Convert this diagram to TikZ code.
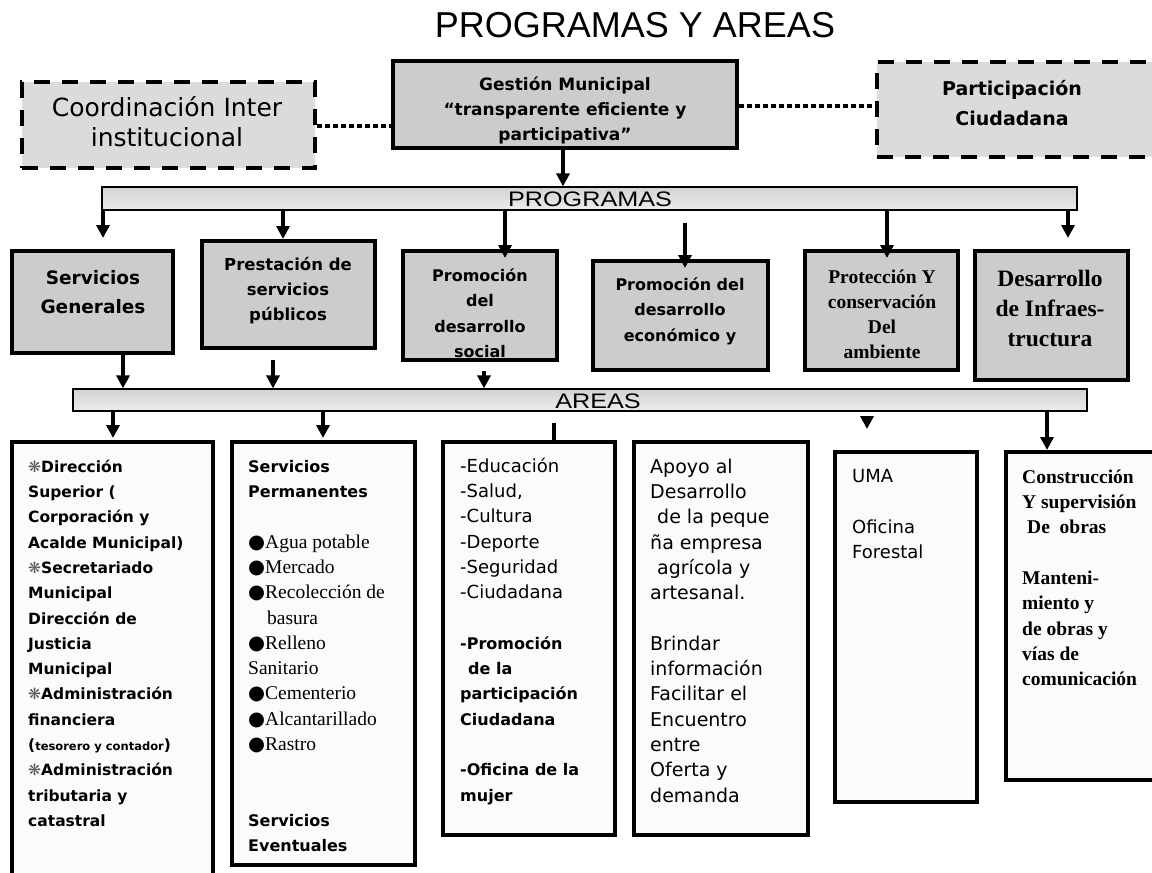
\documentclass[tikz,border=0pt]{standalone}
\usepackage{graphicx}
\usepackage{fontspec}
\setmainfont{DejaVu Sans}
\newfontfamily\dvs{DejaVu Sans}
\newfontfamily\tms{Liberation Serif}
\newfontfamily\arl{Liberation Sans}
\usetikzlibrary{arrows.meta}
\tikzstyle{prg}=[draw,line width=4pt,fill=gray!40,inner sep=0]
\tikzstyle{ext}=[draw,line width=4pt,dash pattern=on 16pt off 12pt,fill=gray!28,inner sep=0]
\tikzstyle{area}=[draw,line width=4pt,fill=gray!3,inner sep=0]
\tikzstyle{bar}=[draw,line width=1.2pt,top color=gray!35,middle color=white,bottom color=gray!15,inner sep=0]
\tikzstyle{arr}=[line width=3.5pt,-{Triangle[length=13pt,width=13pt]}]
\tikzstyle{dots}=[line width=4pt,dash pattern=on 5pt off 3pt]
\tikzstyle{txt}=[inner sep=0,align=center]
\tikzstyle{lst}=[inner sep=0,align=left,anchor=north west]
\newcommand{\fs}[1]{\fontsize{#1}{25.3}\selectfont}
\newcommand{\flor}{{\dvs\mdseries\color{black!65}❋}}
\newcommand{\bol}{{\dvs\mdseries ●}}
\newcommand{\tp}{\rule{0pt}{20pt}}

\begin{document}
\begin{tikzpicture}[x=1pt,y=-1pt]
    \useasboundingbox (0,0) rectangle (1152,873);

    \node[font=\arl\fontsize{36}{40}\selectfont] (ttl) at (635,25) {PROGRAMAS Y AREAS};

    % top row
    \node[ext,minimum width=293pt,minimum height=86pt] (coord) at (168.5,125) {};
    \node[prg,minimum width=344pt,minimum height=87pt] (gest) at (565,104.5) {};
    \node[ext,minimum width=283pt,minimum height=95pt] (part) at (1018.5,109.5) {};
    \node[txt,font=\fontsize{25}{30}\selectfont] (coordt) at (167,122) {Coordinación Inter\\institucional};
    \node[txt,font=\bfseries\fontsize{17}{25}\selectfont] (gestt) at (565,110) {Gestión Municipal\\“transparente eficiente y\\participativa”};
    \node[txt,font=\bfseries\fontsize{19}{30}\selectfont] (partt) at (1012,103) {Participación\\Ciudadana};

    % bars
    \node[bar,minimum width=975pt,minimum height=23pt] (prog) at (589.5,198.5) {};
    \node[font=\arl\fontsize{21}{24}\selectfont,inner sep=0] (progt) at (590,199.5) {\scalebox{1.2}[1]{PROGRAMAS}};
    \node[bar,minimum width=1014pt,minimum height=22pt] (areas) at (580,400) {};
    \node[font=\arl\fontsize{21}{24}\selectfont,inner sep=0] (areast) at (598,401) {\scalebox{1.2}[1]{AREAS}};

    % programas
    \node[prg,minimum width=161pt,minimum height=102pt] (sg) at (92.5,302) {};
    \node[prg,minimum width=173pt,minimum height=107pt] (psp) at (288.5,294.5) {};
    \node[prg,minimum width=154pt,minimum height=109pt] (pds) at (480,305.5) {};
    \node[prg,minimum width=175pt,minimum height=109pt] (pde) at (680.5,315.5) {};
    \node[prg,minimum width=153pt,minimum height=119pt] (pca) at (881.5,310.5) {};
    \node[prg,minimum width=153pt,minimum height=129pt] (din) at (1051.5,315.5) {};

    \node[txt,font=\bfseries\fontsize{18.5}{29}\selectfont] (sgt) at (93,292) {Servicios\\Generales};
    \node[txt,font=\bfseries\fontsize{16.5}{25}\selectfont] (pspt) at (288,291) {Prestación de\\servicios\\públicos};
    \node[txt,font=\bfseries\fontsize{16}{25.5}\selectfont] (pdst) at (480,313) {Promoción\\del\\desarrollo\\social};
    \node[txt,font=\bfseries\fontsize{16}{25.5}\selectfont] (pdet) at (680,311) {Promoción del\\desarrollo\\económico y};
    \node[txt,font=\tms\bfseries\fontsize{19.5}{25}\selectfont] (pcat) at (882,314) {Protección Y\\conservación\\Del\\ambiente};
    \node[txt,font=\tms\bfseries\fontsize{23.5}{30}\selectfont] (dint) at (1050,308) {Desarrollo\\de Infraes-\\tructura};

    % areas
    \node[area,minimum width=201pt,minimum height=448pt] (dsup) at (112.5,666) {};
    \node[area,minimum width=183pt,minimum height=423pt] (serv) at (323.5,653.5) {};
    \node[area,minimum width=172pt,minimum height=393pt] (soc) at (529,638.5) {};
    \node[area,minimum width=174pt,minimum height=393pt] (eco) at (721,638.5) {};
    \node[area,minimum width=142pt,minimum height=350pt] (uma) at (906,627) {};
    \node[area,minimum width=154pt,minimum height=328pt] (obr) at (1083,616) {};

    \node[lst,font=\bfseries\fs{15.5}] (dsupt) at (28,452) {\tp\flor Dirección\\Superior (\\Corporación y\\Acalde Municipal)\\\flor Secretariado\\Municipal\\Dirección de\\Justicia\\Municipal\\\flor Administración\\financiera\\({\fs{11.5}tesorero y contador})\\\flor Administración\\tributaria y\\catastral};
    \node[lst,font=\bfseries\fs{16}] (servt) at (248,452) {\tp Servicios\\Permanentes\\[25.3pt]{\tms\mdseries\fs{19.5}\bol Agua potable}\\{\tms\mdseries\fs{19.5}\bol Mercado}\\{\tms\mdseries\fs{19.5}\bol Recolección de}\\{\tms\mdseries\fs{19.5}\hspace*{19pt}basura}\\{\tms\mdseries\fs{19.5}\bol Relleno}\\{\tms\mdseries\fs{19.5}Sanitario}\\{\tms\mdseries\fs{19.5}\bol Cementerio}\\{\tms\mdseries\fs{19.5}\bol Alcantarillado}\\{\tms\mdseries\fs{19.5}\bol Rastro}\\[50.6pt]Servicios\\Eventuales};
    \node[lst,font=\fs{18}] (soct) at (460,452) {\tp-Educación\\-Salud,\\-Cultura\\-Deporte\\-Seguridad\\-Ciudadana\\[25.3pt]{\bfseries\fs{16}-Promoción}\\{\bfseries\fs{16}\hspace*{8pt}de la}\\{\bfseries\fs{16}participación}\\{\bfseries\fs{16}Ciudadana}\\[25.3pt]{\bfseries\fs{16}-Oficina de la}\\{\bfseries\fs{16}mujer}};
    \node[lst,font=\fs{19}] (ecot) at (650,453) {\tp Apoyo al\\Desarrollo\\\hspace*{7pt}de la peque\\ña empresa\\\hspace*{7pt}agrícola y\\artesanal.\\[25.3pt]Brindar\\información\\Facilitar el\\Encuentro\\entre\\Oferta y\\demanda};
    \node[lst,font=\fontsize{18}{25.5}\selectfont] (umat) at (852,462) {\tp UMA\\[25.5pt]Oficina\\Forestal};
    \node[lst,font=\tms\bfseries\fs{19.5}] (obrt) at (1022,463) {\tp Construcción\\Y supervisión\\\hspace*{5pt}De\ \ obras\\[25.3pt]Manteni-\\miento y\\de obras y\\vías de\\comunicación};

    % connectors
    \draw[dots] (coord.east |- 0,126) -- (gest.west |- 0,126);
    \draw[dots] (gest.east |- 0,106) -- (part.west |- 0,106);
    \draw[arr] (gest.south -| 563,0) -- (prog.north -| 563,0);

    \draw[arr,shorten >=11pt] (prog.south -| 103,0) -- (sg.north -| 103,0);
    \draw[arr] (prog.south -| 283,0) -- (psp.north -| 283,0);
    \draw[arr,shorten >=-9pt] (prog.south -| 505,0) -- (pds.north -| 505,0);
    \draw[arr,shorten <=12pt,shorten >=-9pt] (prog.south -| 685,0) -- (pde.north -| 685,0);
    \draw[arr,shorten >=-9pt] (prog.south -| 887,0) -- (pca.north -| 887,0);
    \draw[arr,shorten >=11pt] (prog.south -| 1068,0) -- (din.north -| 1068,0);

    \draw[arr] (sg.south -| 123,0) -- (areas.north -| 123,0);
    \draw[arr,shorten <=10pt] (psp.south -| 273,0) -- (areas.north -| 273,0);
    \draw[arr,shorten <=9pt] (pds.south -| 484,0) -- (areas.north -| 484,0);

    \draw[arr,shorten >=2pt] (areas.south -| 113,0) -- (dsup.north -| 113,0);
    \draw[arr,shorten >=2pt] (areas.south -| 323,0) -- (serv.north -| 323,0);
    \draw[line width=3.5pt,shorten <=11pt] (areas.south -| 554,0) -- (soc.north -| 554,0);
    \draw[arr,shorten <=4pt,shorten >=21pt] (areas.south -| 867,0) -- (uma.north -| 867,0);
    \draw[arr] (areas.south -| 1047,0) -- (obr.north -| 1047,0);

\end{tikzpicture}
\end{document}
